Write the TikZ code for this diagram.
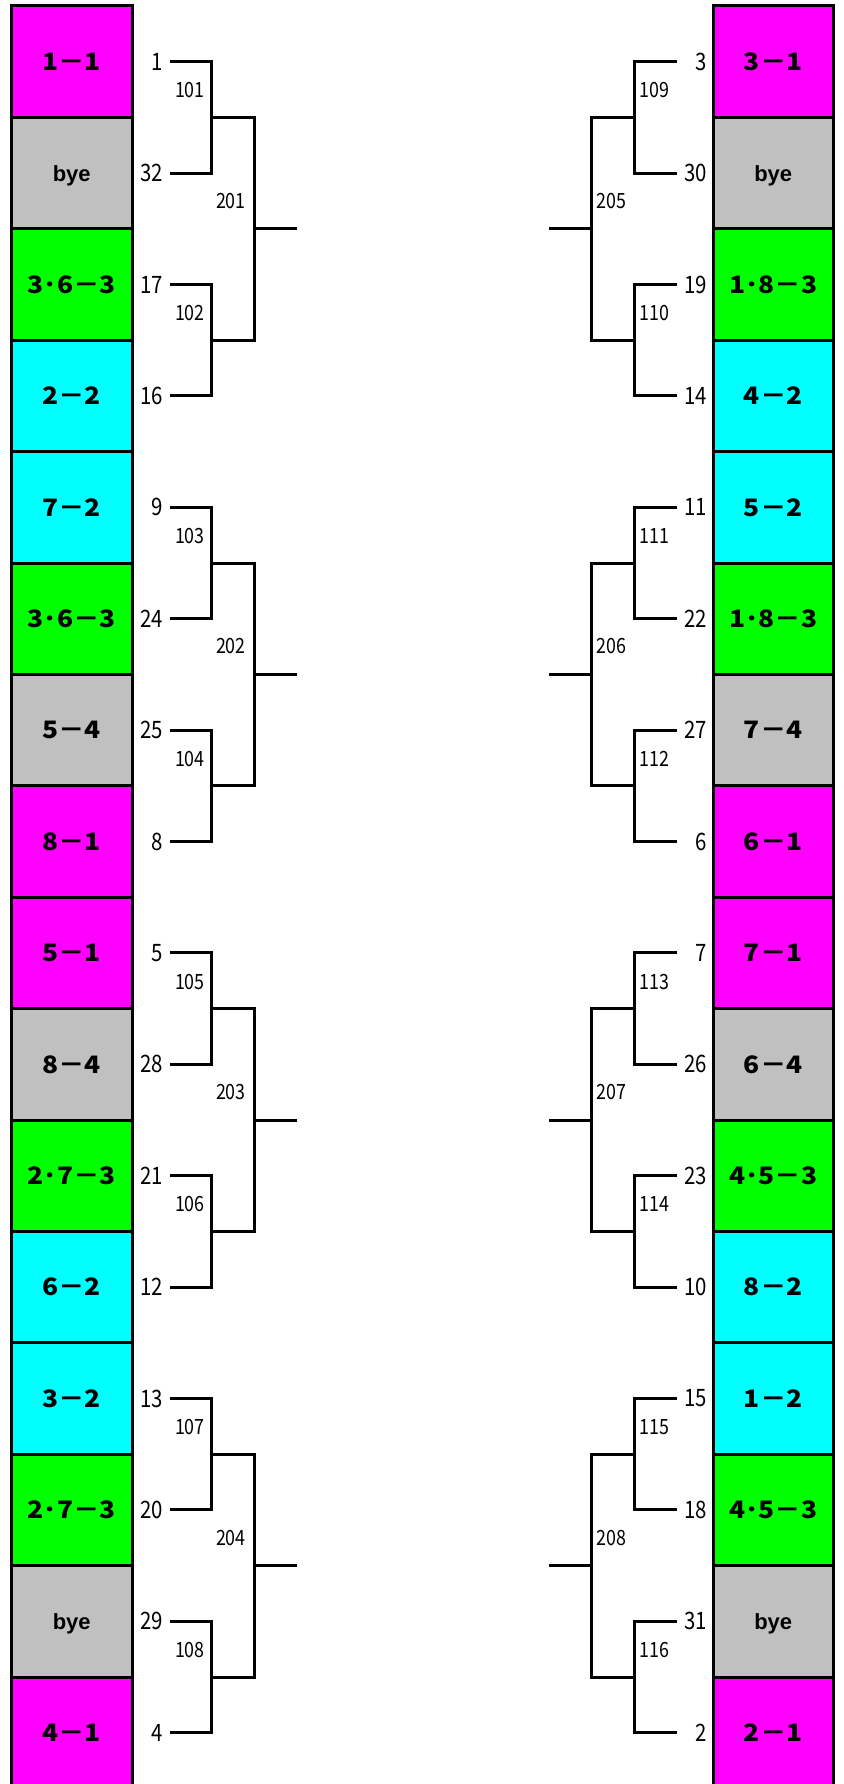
\documentclass[tikz,border=0pt]{standalone}
\usepackage{fontspec}
\setmainfont{Noto Sans CJK JP}
\newfontfamily\boxfont[FakeStretch=1.1]{Noto Sans CJK JP}
\newfontfamily\byefont{Liberation Sans}
\newfontfamily\numfont[FakeStretch=0.85]{Noto Sans CJK JP}
\definecolor{pinkbox}{HTML}{FF00FF}
\definecolor{graybox}{HTML}{C0C0C0}
\definecolor{greenbox}{HTML}{00FF00}
\definecolor{cyanbox}{HTML}{00FFFF}
\tikzset{
  seedbox/.style={draw=black,line width=3pt,minimum width=120.5pt,minimum height=111.4pt,inner sep=0pt,text depth=0pt,font=\boxfont\bfseries\fontsize{24}{24}\selectfont},
  seednum/.style={inner sep=0pt,font=\numfont\fontsize{24}{24}\selectfont},
  matchnum/.style={inner sep=0pt,font=\numfont\fontsize{21}{21}\selectfont},
  bline/.style={black,line width=3pt}
}
\newcommand{\bye}{{\byefont\bfseries\fontsize{22}{22}\selectfont bye}}
\begin{document}
\begin{tikzpicture}[x=1pt,y=-1pt]
\useasboundingbox (0,0) rectangle (843,1784);
\clip (0,0) rectangle (843,1784);
\foreach \i/\txt/\col/\seed in {1/1－1/pinkbox/1,2/\bye/graybox/32,3/3･6－3/greenbox/17,4/2－2/cyanbox/16,5/7－2/cyanbox/9,6/3･6－3/greenbox/24,7/5－4/graybox/25,8/8－1/pinkbox/8,9/5－1/pinkbox/5,10/8－4/graybox/28,11/2･7－3/greenbox/21,12/6－2/cyanbox/12,13/3－2/cyanbox/13,14/2･7－3/greenbox/20,15/\bye/graybox/29,16/4－1/pinkbox/4}{
  \node [seedbox,fill=\col] (L\i) at (71.75,{6+(\i-0.5)*111.4}) {\txt};
  \node [seednum,anchor=east] (nL\i) at (163,{6+(\i-0.5)*111.4}) {\seed};
  \coordinate (aL\i) at (170,{6+(\i-0.5)*111.4});
}
\foreach \i/\txt/\col/\seed in {1/3－1/pinkbox/3,2/\bye/graybox/30,3/1･8－3/greenbox/19,4/4－2/cyanbox/14,5/5－2/cyanbox/11,6/1･8－3/greenbox/22,7/7－4/graybox/27,8/6－1/pinkbox/6,9/7－1/pinkbox/7,10/6－4/graybox/26,11/4･5－3/greenbox/23,12/8－2/cyanbox/10,13/1－2/cyanbox/15,14/4･5－3/greenbox/18,15/\bye/graybox/31,16/2－1/pinkbox/2}{
  \node [seedbox,fill=\col] (R\i) at (773.25,{6+(\i-0.5)*111.4}) {\txt};
  \node [seednum,anchor=east] (nR\i) at (707,{6+(\i-0.5)*111.4}) {\seed};
  \coordinate (aR\i) at (677,{6+(\i-0.5)*111.4});
}
\foreach \k/\labL/\labR in {1/101/109,2/102/110,3/103/111,4/104/112,5/105/113,6/106/114,7/107/115,8/108/116}{
  \pgfmathtruncatemacro\a{2*\k-1}
  \pgfmathtruncatemacro\b{2*\k}
  \coordinate (jL\k) at (211,{6+(2*\k-1)*111.4});
  \coordinate (jR\k) at (634,{6+(2*\k-1)*111.4});
  \draw [bline] (aL\a) -| (jL\k) |- (aL\b);
  \draw [bline] (aR\a) -| (jR\k) |- (aR\b);
  \node [matchnum,anchor=east] (mL\k) at (205,{6+(2*\k-1)*111.4-27}) {\labL};
  \node [matchnum,anchor=west] (mR\k) at (639,{6+(2*\k-1)*111.4-27}) {\labR};
}
\foreach \m/\labL/\labR in {1/201/205,2/202/206,3/203/207,4/204/208}{
  \pgfmathtruncatemacro\a{2*\m-1}
  \pgfmathtruncatemacro\b{2*\m}
  \coordinate (qL\m) at (254,{6+(4*\m-2)*111.4});
  \coordinate (eL\m) at (297,{6+(4*\m-2)*111.4});
  \coordinate (qR\m) at (591,{6+(4*\m-2)*111.4});
  \coordinate (eR\m) at (549,{6+(4*\m-2)*111.4});
  \draw [bline] (jL\a) -| (qL\m) |- (jL\b);
  \draw [bline] (qL\m) -- (eL\m);
  \draw [bline] (jR\a) -| (qR\m) |- (jR\b);
  \draw [bline] (qR\m) -- (eR\m);
  \node [matchnum,anchor=east] (rL\m) at (246,{6+(4*\m-2)*111.4-28}) {\labL};
  \node [matchnum,anchor=west] (rR\m) at (596,{6+(4*\m-2)*111.4-28}) {\labR};
}
\end{tikzpicture}
\end{document}
